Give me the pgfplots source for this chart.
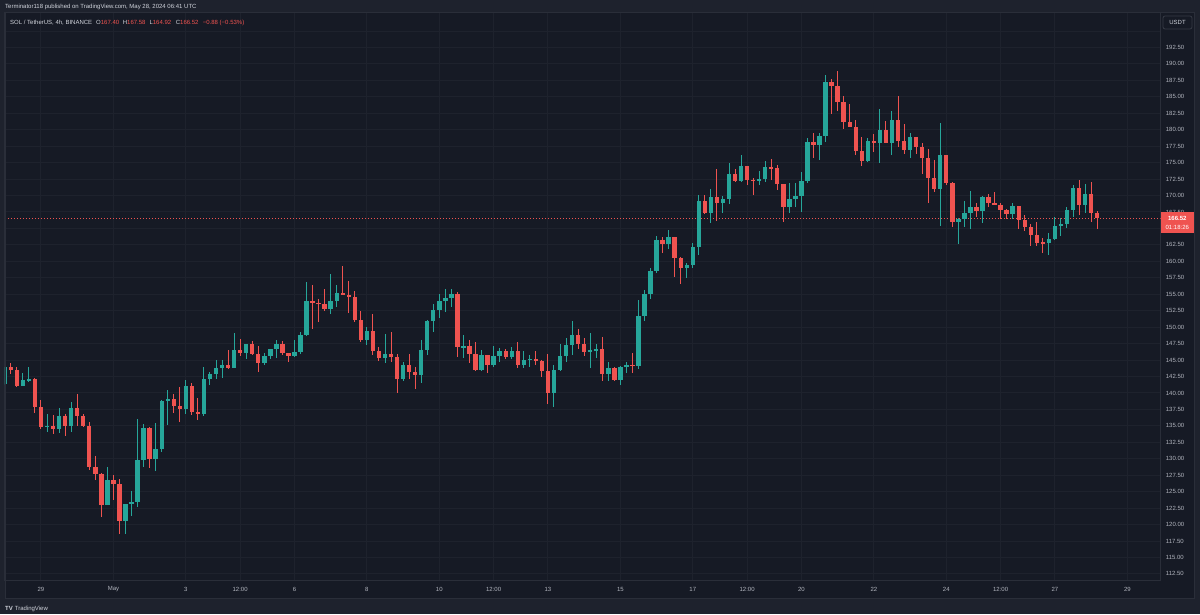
\documentclass[border=0pt]{standalone}
\usepackage{pgfplots}
\pgfplotsset{compat=1.18}
\usepackage{pgfplotstable}
\usepackage{fontspec}
\setmainfont{Liberation Sans}
\definecolor{panel}{HTML}{161A25}
\definecolor{outer}{HTML}{1E222D}
\definecolor{gridc}{HTML}{1E222D}
\definecolor{borderc}{HTML}{2A2E39}
\definecolor{boxc}{HTML}{363A45}
\definecolor{upc}{HTML}{26A69A}
\definecolor{downc}{HTML}{EF5350}
\definecolor{txt}{HTML}{B2B5BE}
\definecolor{txtw}{HTML}{D1D4DC}
\newcommand{\sm}{\fontsize{6}{7}\selectfont}

\pgfplotstableread{
i O H L C
-6 141.31 144.0 141.2 143.9
-3 141.11 142.98 141.0 141.97
-2 141.97 144.0 141.7 142.07
1 134.88 136.75 134.1 134.95
3 134.57 137.7 133.97 136.5
5 134.98 138.68 134.07 137.66
11 122.97 128.8 122.9 126.77
14 120.49 123.2 118.57 123.12
15 123.12 125.05 121.35 123.43
16 123.43 135.99 122.62 129.81
17 129.81 135.28 128.8 134.73
19 130.01 135.49 128.2 131.43
20 131.43 139.0 131.08 138.83
21 138.83 140.45 135.13 139.08
24 137.51 141.97 136.75 141.06
27 136.8 144.0 136.5 142.07
28 142.07 143.24 141.21 142.83
29 142.83 145.0 142.12 143.75
30 143.75 145.0 142.22 144.25
32 143.85 149.17 143.85 146.53
34 146.13 147.5 145.2 147.39
37 144.61 146.02 144.2 145.62
38 145.62 146.7 145.2 146.63
39 146.63 148.05 145.37 147.49
42 145.62 148.05 145.52 146.23
43 146.23 149.32 145.92 148.76
44 148.76 156.87 148.71 153.98
48 152.76 158.08 151.95 153.98
49 153.98 156.36 153.12 155.14
54 148.05 150.08 147.3 149.47
57 145.37 148.96 144.51 145.87
60 142.12 144.76 141.87 144.25
63 142.73 148.05 141.57 146.53
64 146.53 151.09 145.77 150.89
65 150.89 153.52 149.32 152.61
66 152.61 155.04 151.34 153.93
67 153.93 155.75 152.36 154.38
68 154.38 155.75 153.02 155.04
70 146.94 148.81 145.27 147.14
73 143.49 146.53 143.39 145.77
75 144.2 147.14 143.9 145.62
76 145.62 146.78 144.76 146.43
78 145.42 147.04 145.12 146.43
80 144.25 146.38 143.85 145.0
81 145.0 145.77 143.9 145.2
85 140.05 144.25 137.82 143.49
86 143.49 147.44 143.39 145.62
87 145.62 148.3 144.76 147.29
88 147.29 150.89 145.77 148.81
91 146.28 149.17 143.74 146.53
92 146.53 147.44 145.27 146.63
94 142.88 144.76 141.87 143.8
96 141.92 144.1 141.21 143.9
97 143.9 144.7 143.1 144.3
99 144.1 154.12 143.69 151.7
100 151.7 155.64 150.98 154.98
101 154.98 158.93 154.27 158.53
102 158.53 163.85 158.28 163.19
104 162.63 164.76 161.82 163.7
107 159.04 159.7 157.52 159.39
108 159.39 162.84 158.93 162.18
109 162.18 170.03 160.96 169.22
111 167.4 170.94 165.88 169.73
113 168.81 169.93 167.4 169.42
114 169.42 174.99 168.66 173.27
116 172.26 176.21 172.06 174.49
119 172.26 173.68 171.65 172.46
120 172.46 175.2 172.06 174.39
124 168.31 171.85 167.29 169.42
125 169.42 171.85 168.31 169.93
126 169.93 173.63 167.55 172.21
127 172.21 178.7 171.85 178.09
129 177.68 179.46 175.4 179.05
130 179.05 188.32 178.19 187.31
137 175.3 178.7 175.15 178.29
139 177.94 183.1 175.0 179.96
141 178.04 182.85 176.16 181.48
144 176.92 179.46 175.66 178.85
149 170.94 181.08 165.42 176.16
152 166.03 166.54 162.59 166.38
153 166.38 169.22 165.17 167.3
154 167.3 170.69 164.87 168.31
156 167.7 169.93 165.88 169.73
161 167.19 168.82 166.38 168.41
167 162.74 164.25 160.96 163.39
168 163.39 166.79 163.24 165.42
169 165.42 166.54 163.85 165.62
170 165.62 168.31 165.01 167.8
171 167.8 171.6 166.79 171.09
173 168.56 171.75 167.29 170.18
}\upcandles

\pgfplotstableread{
i O H L C
-5 143.9 144.5 142.88 143.49
-4 143.49 143.9 140.86 141.11
-1 142.07 142.3 137.0 137.92
0 137.92 138.9 134.57 134.88
2 134.95 136.65 133.8 134.57
4 136.5 136.75 133.4 134.98
6 137.66 139.8 134.98 136.5
7 136.5 136.75 134.8 134.98
8 134.98 135.6 128.3 128.8
9 128.8 130.4 126.77 127.68
10 127.68 127.8 121.2 122.97
12 126.77 127.53 123.73 126.16
13 126.16 126.87 118.57 120.49
18 134.73 134.9 128.6 130.01
22 139.08 139.9 137.0 138.02
23 138.02 140.96 135.64 137.51
25 141.06 141.47 136.65 137.16
26 137.16 139.2 135.9 136.8
31 144.25 146.53 143.65 143.85
33 146.53 148.25 145.62 146.13
35 147.39 147.9 145.77 145.92
36 145.92 147.19 143.14 144.61
40 147.49 147.9 145.77 146.02
41 146.02 146.02 144.76 145.62
45 153.98 156.36 149.77 153.73
46 153.73 154.23 150.84 153.47
47 153.47 155.75 152.51 152.76
50 155.14 159.3 154.89 154.89
51 154.89 157.0 152.1 154.64
52 154.64 155.5 150.84 151.09
53 151.09 152.46 147.8 148.05
55 149.47 152.0 145.77 146.43
56 146.43 146.94 144.86 145.37
58 145.87 149.22 144.76 145.42
59 145.42 145.92 140.05 142.12
61 144.25 145.92 142.12 143.24
62 143.24 144.0 140.6 142.73
69 155.04 155.4 145.42 146.94
71 147.14 148.05 144.51 145.92
72 145.92 147.8 143.39 143.49
74 145.77 145.77 143.09 144.2
77 146.43 146.63 145.22 145.42
79 146.43 147.8 143.74 144.25
82 145.2 146.43 144.25 144.91
83 144.91 145.0 142.48 143.39
84 143.39 145.92 138.32 140.05
89 148.81 149.67 146.68 147.44
90 147.44 148.3 145.62 146.28
93 146.63 148.46 141.87 142.88
95 143.8 143.9 141.87 141.92
98 144.3 146.12 143.07 144.1
103 163.19 163.65 161.32 162.63
105 163.7 163.7 157.57 160.45
106 160.45 160.71 156.51 159.04
110 169.22 170.03 167.19 167.4
112 169.73 174.03 166.18 168.81
115 173.27 173.98 172.06 172.26
117 174.49 174.5 171.65 172.36
118 172.36 172.66 170.03 172.26
121 174.39 175.6 172.36 174.13
122 174.13 174.59 170.84 171.75
123 171.75 171.75 166.03 168.31
128 178.09 179.46 175.76 177.68
131 187.31 187.66 182.39 186.7
132 186.7 188.93 182.85 184.27
133 184.27 185.13 180.11 181.23
134 181.23 183.91 180.37 180.47
135 180.47 181.48 176.16 176.77
136 176.77 178.95 174.49 175.3
138 178.29 179.35 176.67 177.94
140 179.96 181.38 177.94 178.04
142 181.48 185.13 177.43 178.34
143 178.34 180.87 176.31 176.92
145 178.85 178.85 176.31 177.43
146 177.43 177.94 173.27 175.66
147 175.66 177.02 168.92 172.72
148 172.72 175.4 170.6 170.94
150 176.16 176.16 171.6 171.96
151 171.96 172.01 165.27 166.03
155 168.31 168.82 166.79 167.7
157 169.73 170.18 168.21 168.92
158 168.92 170.59 168.56 168.61
159 168.61 168.92 166.38 167.8
160 167.8 167.9 166.38 167.19
162 168.41 168.41 164.86 166.28
163 166.28 167.04 164.61 165.27
164 165.27 165.67 162.33 164.0
165 164.0 166.03 162.33 162.84
166 162.84 163.5 161.21 162.74
172 171.09 172.36 167.04 168.56
174 170.18 172.11 166.03 167.4
175 167.40 167.58 164.92 166.52
}\downcandles

\begin{document}
\begin{tikzpicture}
\fill[outer] (0pt,0pt) rectangle (1200pt,614pt);
\fill[panel] (5pt,16pt) rectangle (1194pt,601pt);
\begin{axis}[
  at={(5pt,33.5pt)}, anchor=south west,
  width=1155.7pt, height=567.5pt, scale only axis,
  xmin=-5.965, xmax=185.53, ymin=111.50, ymax=197.74,
  axis background/.style={fill=panel},
  axis line style={draw=borderc, line width=1pt},
  grid=major, major grid style={draw=gridc, line width=1pt},
  major tick length=0pt,
  xtick={0,12,24,33,42,54,66,75,84,96,108,117,126,138,150,159,168,180},
  xticklabels={29,May,3,12:00,6,8,10,12:00,13,15,17,12:00,20,22,24,12:00,27,29},
  ytick={112.5,115,117.5,120,122.5,125,127.5,130,132.5,135,137.5,140,142.5,145,147.5,150,152.5,155,157.5,160,162.5,165,167.5,170,172.5,175,177.5,180,182.5,185,187.5,190,192.5,195},
  yticklabels={112.50,115.00,117.50,120.00,122.50,125.00,127.50,130.00,132.50,135.00,137.50,140.00,142.50,145.00,147.50,150.00,152.50,155.00,157.50,160.00,162.50,{},167.50,170.00,172.50,175.00,177.50,180.00,182.50,185.00,187.50,190.00,192.50,{}},
  yticklabel pos=right,
  yticklabel style={font=\sm, text=txt, anchor=west, inner sep=0pt, xshift=5pt},
  xticklabel style={font=\sm, text=txt, anchor=center, inner sep=0pt, yshift=-9pt},
]
% current price line
\addplot[downc, line width=0.7pt, dash pattern=on 1.5pt off 1.5pt, forget plot] coordinates {(-7,166.52) (187,166.52)};
% wicks
\addplot[draw=none, mark=none, forget plot, error bars/.cd, y dir=both, y explicit, error mark=none,
  error bar style={draw=upc, line width=1pt}]
  table[x=i, y expr={(\thisrow{H}+\thisrow{L})/2}, y error expr={(\thisrow{H}-\thisrow{L})/2}] {\upcandles};
\addplot[draw=none, mark=none, forget plot, error bars/.cd, y dir=both, y explicit, error mark=none,
  error bar style={draw=downc, line width=1pt}]
  table[x=i, y expr={(\thisrow{H}+\thisrow{L})/2}, y error expr={(\thisrow{H}-\thisrow{L})/2}] {\downcandles};
% bodies
\addplot[draw=none, mark=none, forget plot, error bars/.cd, y dir=both, y explicit, error mark=none,
  error bar style={draw=upc, line width=4.4pt}]
  table[x=i, y expr={(\thisrow{O}+\thisrow{C})/2}, y error expr={max(abs(\thisrow{C}-\thisrow{O})/2,0.08)}] {\upcandles};
\addplot[draw=none, mark=none, forget plot, error bars/.cd, y dir=both, y explicit, error mark=none,
  error bar style={draw=downc, line width=4.4pt}]
  table[x=i, y expr={(\thisrow{O}+\thisrow{C})/2}, y error expr={max(abs(\thisrow{C}-\thisrow{O})/2,0.08)}] {\downcandles};
\end{axis}
\draw[borderc, line width=1pt] (5pt,16pt) rectangle (1194pt,601pt);
% header
\node[anchor=west, text=txtw, font=\sm, inner sep=0pt] at (5pt,607.3pt) {Terminator118 published on TradingView.com, May 28, 2024 06:41 UTC};
% legend
\node[anchor=west, font=\sm, inner sep=0pt] at (10pt,591.3pt) {\textcolor{txtw}{SOL / TetherUS, 4h, BINANCE}};
\node[anchor=west, font=\sm, inner sep=0pt] at (96pt,591.3pt) {\textcolor{txtw}{O}\textcolor{downc}{167.40}};
\node[anchor=west, font=\sm, inner sep=0pt] at (122.7pt,591.3pt) {\textcolor{txtw}{H}\textcolor{downc}{167.58}};
\node[anchor=west, font=\sm, inner sep=0pt] at (149.3pt,591.3pt) {\textcolor{txtw}{L}\textcolor{downc}{164.92}};
\node[anchor=west, font=\sm, inner sep=0pt] at (175.7pt,591.3pt) {\textcolor{txtw}{C}\textcolor{downc}{166.52}};
\node[anchor=west, font=\sm, inner sep=0pt] at (202.7pt,591.3pt) {\textcolor{downc}{−0.88 (−0.53\%)}};
% USDT box
\draw[boxc, fill=panel, rounded corners=2pt, line width=0.8pt] (1163pt,585pt) rectangle (1192pt,598pt);
\node[text=txtw, font=\sm, inner sep=0pt] at (1177.5pt,591.5pt) {USDT};
% price box
\fill[downc] (1160.7pt,381pt) rectangle (1194pt,402pt);
\node[text=white, font=\sm\bfseries, inner sep=0pt] at (1177.3pt,395.6pt) {166.52};
\node[text=white, font=\sm, inner sep=0pt] at (1177.3pt,387pt) {01:18:26};
% logo
\node[anchor=west, text=txtw, font=\sm, inner sep=0pt] at (5pt,5.5pt) {\textbf{TV}\hspace{2pt}TradingView};
\pgfresetboundingbox
\useasboundingbox (0pt,0pt) rectangle (1200pt,614pt);
\end{tikzpicture}
\end{document}
